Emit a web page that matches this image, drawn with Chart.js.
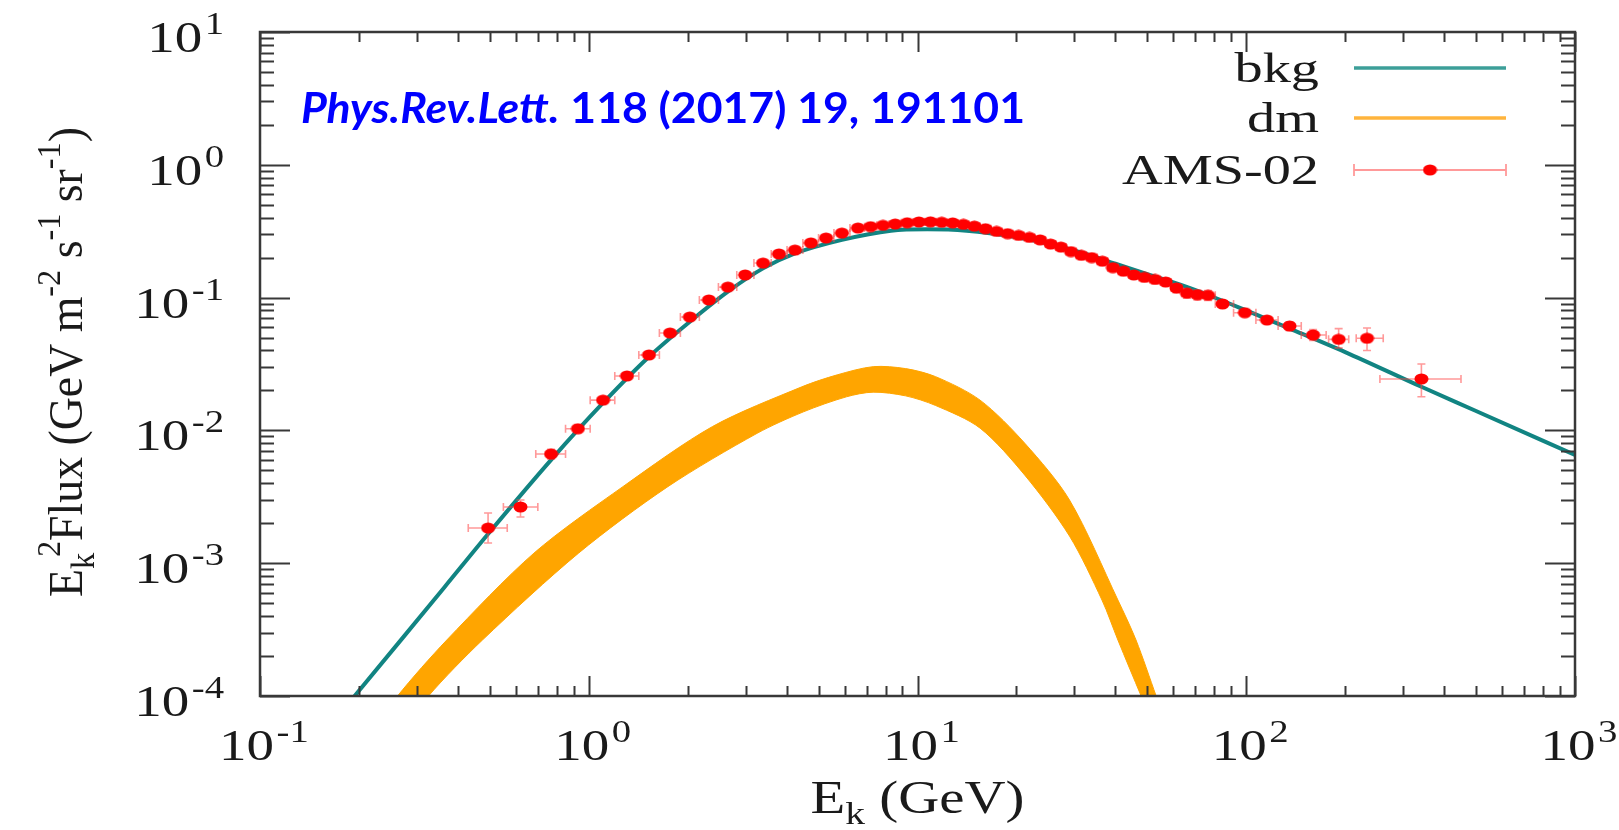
<!DOCTYPE html>
<html>
<head>
<meta charset="utf-8">
<script src="https://cdn.jsdelivr.net/npm/chart.js@4.4.1/dist/chart.umd.min.js"></script>
<style>
  html, body { margin: 0; padding: 0; background: #ffffff; }
  #wrap { width: 1619px; height: 830px; }
</style>
</head>
<body>
<div id="wrap"><canvas id="c" width="1619" height="830"></canvas></div>
<script>
// ---- AMS-02 antiproton data: kinetic energy (GeV) and E_k^2 x flux ----
const amsEnergy = [0.494, 0.620, 0.768, 0.927, 1.105, 1.307, 1.525, 1.767, 2.03, 2.32,
  2.65, 2.99, 3.39, 3.79, 4.24, 4.74, 5.27, 5.89, 6.59,
  7.2, 7.85, 8.55, 9.3, 10.1, 10.95, 11.85, 12.8, 13.8, 14.9, 16.1, 17.4, 18.8, 20.3, 21.9,
  23.6, 25.4, 27.3, 29.3, 31.5, 33.9, 36.5, 39.3, 42.3, 45.5, 49.0, 52.8, 56.9, 61.3, 66.0,
  71.0, 76.5, 84.7, 99, 115.6, 135.4, 159.7, 191, 233, 341];
const amsFlux = [1.84e-3, 2.65e-3, 6.64e-3, 1.03e-2, 1.69e-2, 2.57e-2, 3.70e-2, 5.41e-2, 7.14e-2, 9.6e-2,
  0.120, 0.148, 0.182, 0.213, 0.228, 0.258, 0.281, 0.306, 0.334,
  0.342, 0.350, 0.358, 0.366, 0.371, 0.372, 0.369, 0.365, 0.356, 0.345, 0.330, 0.315, 0.303, 0.294, 0.284,
  0.272, 0.253, 0.240, 0.222, 0.208, 0.200, 0.188, 0.168, 0.158, 0.148, 0.142, 0.137, 0.131, 0.118, 0.108,
  0.105, 0.104, 0.0895, 0.0769, 0.0678, 0.0611, 0.0523, 0.0485, 0.0494, 0.0244];
// energy bin edges
const amsELow = [0.43, 0.55, 0.69, 0.85, 1.01, 1.20, 1.42, 1.64, 1.90, 2.17,
  2.48, 2.82, 3.18, 3.59, 4.01, 4.48, 5.00, 5.57, 6.23,
  6.90, 7.52, 8.20, 8.92, 9.70, 10.52, 11.40, 12.32, 13.30, 14.35, 15.50, 16.74, 18.10, 19.54, 21.10,
  22.74, 24.50, 26.35, 28.30, 30.40, 32.70, 35.20, 37.90, 40.80, 43.90, 47.20, 50.90, 54.80, 59.10, 63.60,
  68.50, 73.70, 80.5, 91.5, 107, 125, 147, 178, 216, 255];
const amsEHigh = [0.565, 0.70, 0.85, 1.01, 1.20, 1.42, 1.64, 1.90, 2.17, 2.48,
  2.82, 3.18, 3.59, 4.01, 4.48, 5.00, 5.57, 6.23, 6.90,
  7.52, 8.20, 8.92, 9.70, 10.52, 11.40, 12.32, 13.30, 14.35, 15.50, 16.74, 18.10, 19.54, 21.10, 22.74,
  24.50, 26.35, 28.30, 30.40, 32.70, 35.20, 37.90, 40.80, 43.90, 47.20, 50.90, 54.80, 59.10, 63.60, 68.50,
  73.70, 80.5, 91.5, 107, 125, 147, 175, 205, 261, 450];
// flux uncertainty band
const amsFluxLow = [1.42e-3, 2.23e-3, 6.1e-3, 9.6e-3, 1.60e-2, 2.45e-2, 3.55e-2, 5.20e-2, 6.90e-2, 9.3e-2,
  0.116, 0.143, 0.176, 0.206, 0.221, 0.250, 0.273, 0.297, 0.325,
  0.333, 0.341, 0.349, 0.357, 0.362, 0.363, 0.360, 0.356, 0.347, 0.336, 0.321, 0.306, 0.294, 0.285, 0.275,
  0.263, 0.244, 0.231, 0.213, 0.199, 0.191, 0.179, 0.159, 0.149, 0.139, 0.133, 0.128, 0.122, 0.109, 0.099,
  0.096, 0.095, 0.0855, 0.0728, 0.0640, 0.0565, 0.0475, 0.0418, 0.0400, 0.0179];
const amsFluxHigh = [2.39e-3, 2.99e-3, 7.2e-3, 1.10e-2, 1.78e-2, 2.69e-2, 3.85e-2, 5.62e-2, 7.40e-2, 9.9e-2,
  0.124, 0.153, 0.188, 0.220, 0.235, 0.266, 0.289, 0.315, 0.343,
  0.351, 0.359, 0.367, 0.375, 0.380, 0.381, 0.378, 0.374, 0.365, 0.354, 0.339, 0.324, 0.312, 0.303, 0.293,
  0.281, 0.262, 0.249, 0.231, 0.217, 0.209, 0.197, 0.177, 0.167, 0.157, 0.151, 0.146, 0.140, 0.127, 0.117,
  0.114, 0.113, 0.0935, 0.0810, 0.0716, 0.0657, 0.0575, 0.0584, 0.0590, 0.0316];

// ---- background (secondary antiproton) model ----
const bkgEnergy = [0.18, 0.194, 0.267, 0.364, 0.494, 0.767, 1.105, 1.525, 2.03, 2.65, 3.39, 4.24,
  5.89, 8.3, 10.7, 14.1, 20, 25, 31.6, 40, 50, 63, 79, 100, 135, 200, 341, 500, 1000];
const bkgFlux = [8e-5, 1e-4, 2.6e-4, 6.6e-4, 1.66e-3, 5.98e-3, 1.61e-2, 3.59e-2, 6.59e-2, 0.111, 0.166, 0.215,
  0.272, 0.319, 0.327, 0.319, 0.285, 0.255, 0.218, 0.180, 0.150, 0.125, 0.1015, 0.080, 0.0587, 0.0389, 0.0213, 0.0140, 0.00653];

// ---- dark matter contribution band: upper and lower edges ----
const dmUpperEnergy = [0.24, 0.262, 0.370, 0.681, 1.27, 2.38, 4.45, 5.7, 7.33, 9.2, 11.35, 15.5, 21.2, 29, 40.7, 46.2, 53.2, 56];
const dmUpperFlux = [7e-5, 1e-4, 2.64e-4, 1.19e-3, 3.77e-3, 1.07e-2, 2.13e-2, 2.62e-2, 3.02e-2, 2.92e-2, 2.54e-2, 1.69e-2, 8.0e-3, 2.99e-3, 5.28e-4, 2.64e-4, 1e-4, 7e-5];
const dmLowerEnergy = [0.30, 0.3255, 0.475, 0.931, 1.74, 3.25, 4.5, 6.08, 7.33, 9.2, 11.35, 15.5, 21.2, 29, 36.4, 40.7, 47.9, 51];
const dmLowerFlux = [7e-5, 1e-4, 2.64e-4, 1.19e-3, 3.77e-3, 9.5e-3, 1.38e-2, 1.79e-2, 1.94e-2, 1.82e-2, 1.54e-2, 1.04e-2, 4.6e-3, 1.6e-3, 5.28e-4, 2.64e-4, 1e-4, 7e-5];

// ---- axes ----
const xTickExponents = [-1, 0, 1, 2, 3];
const yTickExponents = [-4, -3, -2, -1, 0, 1];
const xRange = [0.1, 1000];
const yRange = [1e-4, 10];

const legendLabels = ['bkg', 'dm', 'AMS-02'];
const citation = ['Phys.Rev.Lett.', ' 118 (2017) 19, 191101'];

const COLORS = {
  bkg: '#118482', bkgKey: '#3c9f99',
  dm: '#ffa500', dmKey: '#ffb43c',
  ams: '#ff0000', amsErr: 'rgba(255, 70, 70, 0.55)',
  frame: '#383838', text: '#1a1a1a', cite: '#0000ff'
};
const SERIF = '"Liberation Serif", "DejaVu Serif", serif';
const TEXT_SX = 1.25;   // figure lettering is set slightly wide

// marker: slightly wide red dot
function makeDot(w, h, color) {
  const c = document.createElement('canvas');
  c.width = w; c.height = h;
  const g = c.getContext('2d');
  g.fillStyle = color;
  g.beginPath();
  g.ellipse(w / 2, h / 2, w / 2 - 0.5, h / 2 - 0.5, 0, 0, Math.PI * 2);
  g.fill();
  return c;
}
const dot = makeDot(15, 12, COLORS.ams);

// rich text: parts = [{t, size, dy, style, weight, kern}]
function richWidth(ctx, parts, family) {
  let w = 0;
  for (const p of parts) {
    ctx.font = `${p.style || ''} ${p.weight || ''} ${p.size}px ${family}`;
    w += ctx.measureText(p.t).width + (p.kern || 0);
  }
  return w;
}
function drawRich(ctx, parts, x, y, align, sx, family, color, sy) {
  const w = richWidth(ctx, parts, family);
  ctx.save();
  ctx.translate(x, y);
  ctx.scale(sx, sy || 1);
  ctx.fillStyle = color;
  ctx.textBaseline = 'alphabetic';
  ctx.textAlign = 'left';
  let cx = align === 'center' ? -w / 2 : (align === 'right' ? -w : 0);
  for (const p of parts) {
    ctx.font = `${p.style || ''} ${p.weight || ''} ${p.size}px ${family}`;
    ctx.fillText(p.t, cx, p.dy || 0);
    cx += ctx.measureText(p.t).width + (p.kern || 0);
  }
  ctx.restore();
  return w * sx;
}
function powLabel(exp) {
  return [{ t: '10', size: 44, kern: 2 }, { t: String(exp), size: 31, dy: -18 }];
}

// error bars, drawn right after the background curve so the dots sit on top
const errorBars = {
  id: 'errorBars',
  afterDatasetDraw(chart, args) {
    if (args.index !== 1) return;
    const { ctx, chartArea: a } = chart;
    const xs = chart.scales.x, ys = chart.scales.y;
    ctx.save();
    ctx.beginPath();
    ctx.rect(a.left, a.top, a.right - a.left, a.bottom - a.top);
    ctx.clip();
    ctx.strokeStyle = COLORS.amsErr;
    ctx.lineWidth = 1.6;
    for (let i = 0; i < amsEnergy.length; i++) {
      const px = xs.getPixelForValue(amsEnergy[i]);
      const py = ys.getPixelForValue(amsFlux[i]);
      const x0 = xs.getPixelForValue(amsELow[i]);
      const x1 = xs.getPixelForValue(amsEHigh[i]);
      const y0 = ys.getPixelForValue(amsFluxLow[i]);
      const y1 = ys.getPixelForValue(amsFluxHigh[i]);
      ctx.beginPath();
      ctx.moveTo(x0, py); ctx.lineTo(x1, py);
      ctx.moveTo(x0, py - 4); ctx.lineTo(x0, py + 4);
      ctx.moveTo(x1, py - 4); ctx.lineTo(x1, py + 4);
      ctx.moveTo(px, y0); ctx.lineTo(px, y1);
      ctx.moveTo(px - 4, y0); ctx.lineTo(px + 4, y0);
      ctx.moveTo(px - 4, y1); ctx.lineTo(px + 4, y1);
      ctx.stroke();
    }
    ctx.restore();
  }
};

// frame with inward ticks, tick labels, axis titles, key and citation
const decorations = {
  id: 'decorations',
  afterDraw(chart) {
    const { ctx, chartArea: a } = chart;
    const xs = chart.scales.x, ys = chart.scales.y;
    ctx.save();
    ctx.strokeStyle = COLORS.frame;
    ctx.lineWidth = 2.5;
    ctx.strokeRect(a.left, a.top, a.right - a.left, a.bottom - a.top);
    ctx.lineWidth = 2;
    ctx.beginPath();
    for (let d = xTickExponents[0]; d <= xTickExponents[xTickExponents.length - 1]; d++) {
      for (let m = 1; m <= 9; m++) {
        const v = m * Math.pow(10, d);
        if (v > xRange[1] * 1.0001) break;
        const px = Math.round(xs.getPixelForValue(v)) + 0.5;
        const len = m === 1 ? 20 : 10;
        ctx.moveTo(px, a.bottom); ctx.lineTo(px, a.bottom - len);
        ctx.moveTo(px, a.top); ctx.lineTo(px, a.top + len);
      }
    }
    for (let d = yTickExponents[0]; d <= yTickExponents[yTickExponents.length - 1]; d++) {
      for (let m = 1; m <= 9; m++) {
        const v = m * Math.pow(10, d);
        if (v > yRange[1] * 1.0001) break;
        const py = Math.round(ys.getPixelForValue(v)) + 0.5;
        const len = m === 1 ? 30 : 14;
        ctx.moveTo(a.left, py); ctx.lineTo(a.left + len, py);
        ctx.moveTo(a.right, py); ctx.lineTo(a.right - len, py);
      }
    }
    ctx.stroke();

    // tick labels
    for (const e of xTickExponents) {
      const px = xs.getPixelForValue(Math.pow(10, e));
      drawRich(ctx, powLabel(e), px + 4, 760, 'center', TEXT_SX, SERIF, COLORS.text);
    }
    for (const e of yTickExponents) {
      const py = ys.getPixelForValue(Math.pow(10, e));
      drawRich(ctx, powLabel(e), 224, py + 20, 'right', TEXT_SX, SERIF, COLORS.text);
    }

    // x title
    const xt = [{ t: 'E', size: 46 }, { t: 'k', size: 32, dy: 11 }, { t: ' (GeV)', size: 46 }];
    const xw = richWidth(ctx, xt, SERIF);
    drawRich(ctx, xt, (a.left + a.right) / 2, 813, 'center', 214 / xw, SERIF, COLORS.text);

    // y title, rotated
    const yt = [
      { t: 'E', size: 44 }, { t: 'k', size: 31, dy: 11, kern: -4 }, { t: '2', size: 31, dy: -20 },
      { t: 'Flux (GeV m', size: 44 }, { t: '-2', size: 31, dy: -20 },
      { t: ' s', size: 44 }, { t: '-1', size: 31, dy: -20 },
      { t: ' sr', size: 44 }, { t: '-1', size: 31, dy: -20 }, { t: ')', size: 44 }
    ];
    const yw = richWidth(ctx, yt, SERIF);
    ctx.save();
    ctx.translate(82, 362);
    ctx.rotate(-Math.PI / 2);
    drawRich(ctx, yt, 0, 0, 'center', 470 / yw, SERIF, COLORS.text, 1.1);
    ctx.restore();

    // key
    const keyRows = [68, 118, 170];
    const kx0 = 1354, kx1 = 1506;
    const keyScale = 197 / richWidth(ctx, [{ t: legendLabels[2], size: 42 }], SERIF);
    legendLabels.forEach((lab, i) => {
      drawRich(ctx, [{ t: lab, size: 42 }], 1319, keyRows[i] + 14, 'right', keyScale, SERIF, COLORS.text);
    });
    ctx.lineWidth = 3.5;
    ctx.strokeStyle = COLORS.bkgKey;
    ctx.beginPath(); ctx.moveTo(kx0, keyRows[0]); ctx.lineTo(kx1, keyRows[0]); ctx.stroke();
    ctx.strokeStyle = COLORS.dmKey;
    ctx.beginPath(); ctx.moveTo(kx0, keyRows[1]); ctx.lineTo(kx1, keyRows[1]); ctx.stroke();
    ctx.strokeStyle = COLORS.amsErr;
    ctx.lineWidth = 1.8;
    ctx.beginPath();
    ctx.moveTo(kx0, keyRows[2]); ctx.lineTo(kx1, keyRows[2]);
    ctx.moveTo(kx0, keyRows[2] - 6); ctx.lineTo(kx0, keyRows[2] + 6);
    ctx.moveTo(kx1, keyRows[2] - 6); ctx.lineTo(kx1, keyRows[2] + 6);
    ctx.stroke();
    ctx.drawImage(dot, (kx0 + kx1) / 2 - 7.5, keyRows[2] - 6);

    // citation
    const cite = [
      { t: citation[0], size: 42, weight: 'bold', style: 'italic' },
      { t: citation[1], size: 42, weight: 'bold' }
    ];
    const cw = richWidth(ctx, cite, 'Lato, "Open Sans", sans-serif');
    drawRich(ctx, cite, 301, 123, 'left', 724 / cw, 'Lato, "Open Sans", sans-serif', COLORS.cite);
    ctx.restore();
  }
};

const amsPoints = amsEnergy.map((e, i) => ({ x: e, y: amsFlux[i] }));
const bkgPoints = bkgEnergy.map((e, i) => ({ x: e, y: bkgFlux[i] }));
// closed outline of the dm band: along the upper edge, back along the lower edge
const dmOutline = dmUpperEnergy.map((e, i) => ({ x: e, y: dmUpperFlux[i] }))
  .concat(dmLowerEnergy.map((e, i) => ({ x: e, y: dmLowerFlux[i] })).reverse());

new Chart(document.getElementById('c'), {
  type: 'scatter',
  data: {
    datasets: [
      { label: 'AMS-02', data: amsPoints, pointStyle: dot, pointRadius: 7, order: 0 },
      { label: 'bkg', data: bkgPoints, showLine: true, borderColor: COLORS.bkg, borderWidth: 4,
        pointRadius: 0, cubicInterpolationMode: 'monotone', fill: false, order: 1 },
      { label: 'dm', data: dmOutline, showLine: true, borderColor: COLORS.dm, backgroundColor: COLORS.dm,
        borderWidth: 1, pointRadius: 0, tension: 0.3, fill: 'shape', order: 2 }
    ]
  },
  options: {
    responsive: false,
    animation: false,
    devicePixelRatio: 1,
    layout: { padding: { left: 260, top: 32, right: 44, bottom: 134 } },
    plugins: { legend: { display: false }, tooltip: { enabled: false } },
    events: [],
    scales: {
      x: { type: 'logarithmic', min: xRange[0], max: xRange[1], display: false },
      y: { type: 'logarithmic', min: yRange[0], max: yRange[1], display: false }
    }
  },
  plugins: [errorBars, decorations]
});
</script>
</body>
</html>
